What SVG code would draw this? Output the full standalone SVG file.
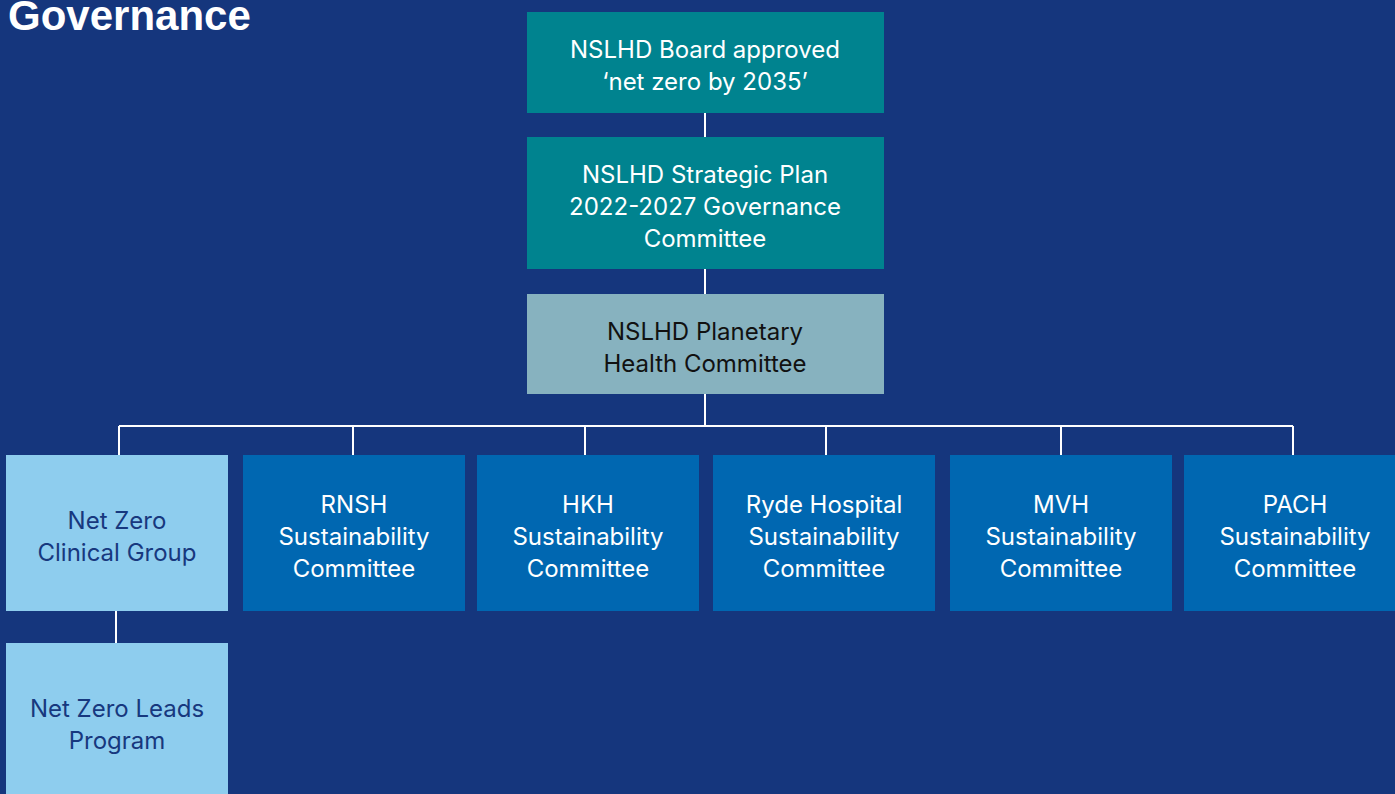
<svg xmlns="http://www.w3.org/2000/svg" width="1395" height="794" viewBox="0 0 1395 794">
<style>
.t{font-family:Inter,"Liberation Sans",Arial,sans-serif;font-size:24px;text-anchor:middle}
.w{fill:#ffffff}
.d{fill:#17387e}
.k{fill:#111111}
.teal{fill:#00838f}
.slate{fill:#87b2bf}
.lb{fill:#8ecdee}
.mb{fill:#0067b1}
.c{stroke:#ffffff;stroke-width:2;fill:none}
</style>
<rect width="1395" height="794" fill="#15367d"/>
<text x="8" y="30" font-family="'Liberation Sans',Arial,sans-serif" font-size="42" font-weight="bold" fill="#ffffff">Governance</text>
<g id="connectors">
<path class="c" d="M705 113V137M705 269V294M705 394V426M119 426H1293M119 426V455M353 426V455M585 426V455M826 426V455M1061 426V455M1293 426V455M116 611V643"/>
</g>
<g id="board"><rect class="teal" x="527" y="12" width="357" height="101"/>
<text class="t w" x="705" y="58">NSLHD Board approved</text><text class="t w" x="705" y="90">‘net zero by 2035’</text></g>
<g id="strategic"><rect class="teal" x="527" y="137" width="357" height="132"/>
<text class="t w" x="705" y="183">NSLHD Strategic Plan</text><text class="t w" x="705" y="215">2022-2027 Governance</text><text class="t w" x="705" y="247">Committee</text></g>
<g id="planetary"><rect class="slate" x="527" y="294" width="357" height="100"/>
<text class="t k" x="705" y="340">NSLHD Planetary</text><text class="t k" x="705" y="372">Health Committee</text></g>
<g id="netzero"><rect class="lb" x="6" y="455" width="222" height="156"/>
<text class="t d" x="117" y="529">Net Zero</text><text class="t d" x="117" y="561">Clinical Group</text></g>
<g id="rnsh"><rect class="mb" x="243" y="455" width="222" height="156"/>
<text class="t w" x="354" y="513">RNSH</text><text class="t w" x="354" y="545">Sustainability</text><text class="t w" x="354" y="577">Committee</text></g>
<g id="hkh"><rect class="mb" x="477" y="455" width="222" height="156"/>
<text class="t w" x="588" y="513">HKH</text><text class="t w" x="588" y="545">Sustainability</text><text class="t w" x="588" y="577">Committee</text></g>
<g id="ryde"><rect class="mb" x="713" y="455" width="222" height="156"/>
<text class="t w" x="824" y="513">Ryde Hospital</text><text class="t w" x="824" y="545">Sustainability</text><text class="t w" x="824" y="577">Committee</text></g>
<g id="mvh"><rect class="mb" x="950" y="455" width="222" height="156"/>
<text class="t w" x="1061" y="513">MVH</text><text class="t w" x="1061" y="545">Sustainability</text><text class="t w" x="1061" y="577">Committee</text></g>
<g id="pach"><rect class="mb" x="1184" y="455" width="222" height="156"/>
<text class="t w" x="1295" y="513">PACH</text><text class="t w" x="1295" y="545">Sustainability</text><text class="t w" x="1295" y="577">Committee</text></g>
<g id="leads"><rect class="lb" x="6" y="643" width="222" height="160"/>
<text class="t d" x="117" y="717">Net Zero Leads</text><text class="t d" x="117" y="749">Program</text></g>
</svg>
